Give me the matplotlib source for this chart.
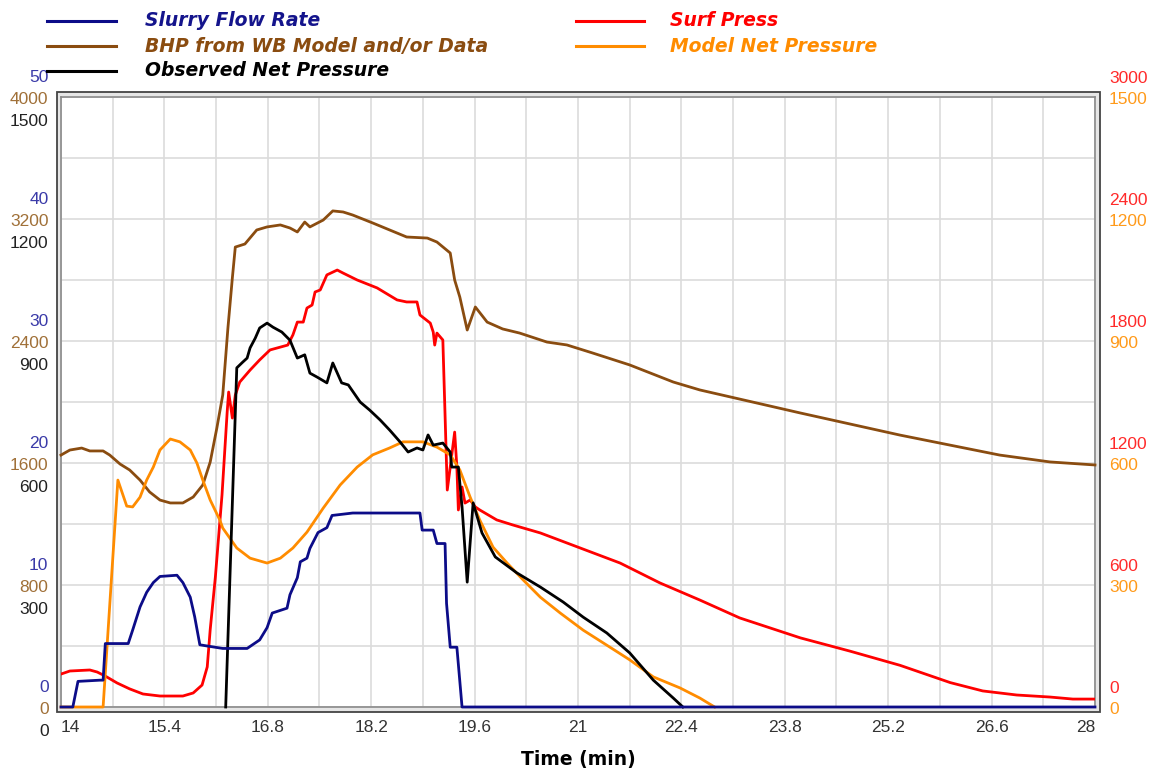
import matplotlib
matplotlib.use('Agg')
import matplotlib.pyplot as plt
from matplotlib.transforms import ScaledTranslation
from matplotlib.lines import Line2D
from matplotlib.patches import Rectangle
import numpy as np

plt.rcParams['font.family'] = ['Liberation Sans', 'DejaVu Sans']

# ---------------- data ----------------
slurry_t = [14.00, 14.16, 14.23, 14.53, 14.57, 14.60, 14.91, 14.97, 15.07, 15.16, 15.25, 15.34,
            15.57, 15.65, 15.75, 15.81, 15.88, 15.98, 16.19, 16.52, 16.69, 16.79, 16.86, 17.06,
            17.10, 17.20, 17.24, 17.33, 17.37, 17.48, 17.60, 17.67, 17.95, 18.86, 18.89, 19.04,
            19.09, 19.20, 19.22, 19.27, 19.36, 19.43, 28.00]
slurry_v = [0, 0, 2.1, 2.2, 2.2, 5.2, 5.2, 6.3, 8.2, 9.4, 10.2, 10.7,
            10.8, 10.2, 9.0, 7.4, 5.1, 5.0, 4.8, 4.8, 5.5, 6.5, 7.7, 8.1,
            9.2, 10.6, 11.9, 12.2, 13.0, 14.3, 14.7, 15.7, 15.9, 15.9, 14.5, 14.5,
            13.4, 13.4, 8.5, 4.9, 4.9, 0, 0]

bhp_t = [14.00, 14.12, 14.28, 14.39, 14.57, 14.66, 14.80, 14.93, 15.07, 15.20, 15.34, 15.48,
         15.65, 15.79, 15.92, 16.02, 16.11, 16.19, 16.26, 16.32, 16.36, 16.49, 16.65, 16.79,
         16.97, 17.10, 17.20, 17.30, 17.37, 17.55, 17.68, 17.82, 17.95, 18.22, 18.45, 18.68,
         18.96, 19.09, 19.27, 19.33, 19.40, 19.50, 19.61, 19.77, 19.98, 20.21, 20.58, 20.85,
         21.20, 21.70, 22.29, 22.65, 24.01, 25.36, 26.71, 27.39, 28.00]
bhp_v = [1652, 1685, 1698, 1679, 1679, 1652, 1593, 1554, 1488, 1410, 1357, 1338,
         1338, 1377, 1456, 1606, 1829, 2046, 2485, 2813, 3016, 3036, 3128, 3148,
         3161, 3141, 3115, 3180, 3148, 3193, 3253, 3246, 3226, 3174, 3128, 3082,
         3075, 3049, 2977, 2800, 2688, 2472, 2623, 2524, 2479, 2452, 2393, 2374,
         2321, 2243, 2131, 2079, 1928, 1783, 1652, 1607, 1587]

obs_t = [16.23, 16.38, 16.46, 16.52, 16.56, 16.63, 16.69, 16.79, 16.87, 16.99, 17.10, 17.20,
         17.30, 17.37, 17.47, 17.60, 17.68, 17.80, 17.89, 18.05, 18.18, 18.32, 18.45, 18.59,
         18.70, 18.82, 18.90, 18.97, 19.04, 19.17, 19.27, 19.29, 19.38, 19.43, 19.50, 19.58,
         19.70, 19.88, 20.17, 20.49, 20.80, 21.07, 21.39, 21.70, 22.02, 22.29, 22.42]
obs_v = [0, 834, 848, 858, 883, 907, 932, 944, 934, 922, 902, 858,
         866, 821, 811, 797, 846, 797, 792, 750, 730, 706, 681, 652,
         627, 637, 632, 669, 644, 649, 627, 590, 590, 492, 307, 502,
         428, 369, 330, 295, 258, 221, 182, 133, 66, 22, 0]

surf_t = [14.00, 14.12, 14.39, 14.49, 14.60, 14.76, 14.93, 15.11, 15.34, 15.65, 15.79, 15.91,
          15.98, 16.02, 16.09, 16.18, 16.25, 16.27, 16.32, 16.36, 16.42, 16.56, 16.69, 16.83,
          17.07, 17.14, 17.20, 17.28, 17.33, 17.40, 17.44, 17.51, 17.60, 17.74, 17.82, 18.01,
          18.28, 18.55, 18.68, 18.82, 18.86, 19.00, 19.04, 19.06, 19.09, 19.17, 19.23, 19.27,
          19.33, 19.36, 19.38, 19.43, 19.47, 19.54, 19.61, 19.67, 19.90, 20.12, 20.49, 21.03,
          21.57, 22.11, 22.65, 23.19, 24.01, 24.68, 25.36, 26.04, 26.48, 26.94, 27.39, 27.70, 28.00]
surf_v = [162, 177, 182, 172, 152, 118, 89, 64, 54, 54, 69, 108,
          197, 380, 639, 1043, 1451, 1549, 1421, 1534, 1598, 1657, 1707, 1756,
          1780, 1830, 1893, 1893, 1962, 1977, 2041, 2051, 2125, 2149, 2134, 2100,
          2061, 2002, 1992, 1992, 1928, 1888, 1844, 1780, 1839, 1805, 1067, 1180,
          1352, 1180, 969, 1082, 1003, 1018, 984, 969, 920, 895, 856, 782,
          708, 610, 526, 438, 340, 275, 205, 120, 79, 59, 49, 39, 39]

model_t = [14.00, 14.57, 14.77, 14.89, 14.97, 15.07, 15.16, 15.25, 15.34, 15.48, 15.61, 15.75,
           15.84, 15.92, 16.02, 16.15, 16.19, 16.38, 16.56, 16.79, 16.97, 17.14, 17.33, 17.55,
           17.78, 18.01, 18.22, 18.45, 18.63, 18.90, 19.09, 19.27, 19.40, 19.54, 19.67, 19.85,
           20.04, 20.26, 20.49, 20.76, 21.07, 21.39, 21.70, 22.02, 22.38, 22.65, 22.85]
model_v = [0, 0, 558, 494, 492, 516, 558, 590, 632, 659, 652, 632,
           600, 558, 509, 460, 440, 391, 366, 354, 366, 391, 430, 489,
           546, 590, 620, 637, 652, 652, 639, 620, 583, 516, 460, 393,
           354, 312, 270, 231, 189, 152, 116, 74, 47, 22, 0]

x_ticks = [14, 15.4, 16.8, 18.2, 19.6, 21, 22.4, 23.8, 25.2, 26.6, 28]
x_tick_labels = ['14', '15.4', '16.8', '18.2', '19.6', '21', '22.4', '23.8', '25.2', '26.6', '28']

slurry_ticks = [0, 10, 20, 30, 40, 50]
bhp_ticks = [0, 800, 1600, 2400, 3200, 4000]
obs_ticks = [0, 300, 600, 900, 1200, 1500]
surf_ticks = [0, 600, 1200, 1800, 2400, 3000]
model_ticks = [0, 300, 600, 900, 1200, 1500]

labels = ['Slurry Flow Rate', 'BHP from WB Model and/or Data', 'Observed Net Pressure',
          'Surf Press', 'Model Net Pressure']

# ---------------- styling ----------------
C_SLURRY, C_BHP, C_OBS, C_SURF, C_MODEL = '#0c0c88', '#8a4c10', '#000000', '#ff0000', '#ff8c00'
T_SLURRY, T_BHP, T_OBS, T_SURF, T_MODEL = '#3a3aa8', '#a07038', '#222222', '#ff2a2a', '#ff9a1a'

W, H = 1164, 771
fig = plt.figure(figsize=(W / 100, H / 100), dpi=100)
L, R, B, T = 61 / W, 1095 / W, 1 - 707 / H, 1 - 97 / H

# outer frame
fig.add_artist(Rectangle((57 / W, 1 - 712 / H), (1100 - 57) / W, (712 - 92) / H,
                         transform=fig.transFigure, facecolor='#e6e6e6',
                         edgecolor='#444444', lw=1.3, zorder=0))

ax0 = fig.add_axes([L, B, R - L, T - B])
ax0.set_xlim(14, 28)
ax0.set_ylim(0, 10)
ax0.set_yticks(np.arange(0, 11, 1))
ax0.set_yticklabels([])
ax0.tick_params(axis='y', length=0)
ax0.set_xticks(x_ticks)
ax0.set_xticks(np.arange(14.7, 28, 1.4), minor=True)
ax0.set_xticklabels(x_tick_labels, fontsize=12.5, color='#333333')
ax0.tick_params(axis='x', which='both', length=0, pad=9)
xl = ax0.get_xticklabels()
xl[0].set_ha('left')
xl[-1].set_ha('right')
ax0.grid(True, which='both', color='#dcdcdc', lw=1.2)
for s in ax0.spines.values():
    s.set_color('#8a8a8a')
    s.set_linewidth(1.2)
ax0.set_xlabel('Time (min)', fontsize=13.5, fontweight='bold', labelpad=11,
               family=['DejaVu Sans'])


def make_axis(side, ylim, ticks, tcolor, dy_px):
    a = ax0.twinx()
    a.set_ylim(*ylim)
    a.set_yticks(ticks)
    a.set_yticklabels([str(t) for t in ticks])
    if side == 'left':
        a.yaxis.tick_left()
        a.tick_params(axis='y', length=0, pad=9, labelsize=12.5, labelcolor=tcolor)
    else:
        a.yaxis.tick_right()
        a.tick_params(axis='y', length=0, pad=10, labelsize=12.5, labelcolor=tcolor)
    for s in a.spines.values():
        s.set_visible(False)
    off = ScaledTranslation(0, dy_px / 100, fig.dpi_scale_trans)
    for tk in a.yaxis.get_major_ticks():
        tk.label1.set_transform(tk.label1.get_transform() + off)
        tk.label2.set_transform(tk.label2.get_transform() + off)
    return a


ax_bhp = make_axis('left', (0, 4000), bhp_ticks, T_BHP, -1)
ax_surf = make_axis('right', (0, 3000), surf_ticks, T_SURF, 20)
ax_model = make_axis('right', (0, 1500), model_ticks, T_MODEL, -1)
ax_obs = make_axis('left', (0, 1500), obs_ticks, T_OBS, -23)
ax_slurry = make_axis('left', (0, 50), slurry_ticks, T_SLURRY, 21)

lw = 2.0
ax_bhp.plot(bhp_t, bhp_v, color=C_BHP, lw=lw, clip_on=False)
ax_surf.plot(surf_t, surf_v, color=C_SURF, lw=lw)
ax_model.plot(model_t, model_v, color=C_MODEL, lw=lw, clip_on=False)
ax_obs.plot(obs_t, obs_v, color=C_OBS, lw=lw, clip_on=False)
ax_slurry.plot(slurry_t, slurry_v, color=C_SLURRY, lw=lw, clip_on=False)
for a in (ax_bhp, ax_surf, ax_model, ax_obs, ax_slurry):
    a.set_xlim(14, 28)

# ---------------- legend (manual) ----------------
leg_colors = [C_SLURRY, C_BHP, C_OBS, C_SURF, C_MODEL]
leg_tcolors = ['#14148c', '#8a4c10', '#000000', '#ff0000', '#ff8c00']
leg_pos = [(47, 116, 145, 21), (47, 116, 145, 46), (47, 116, 145, 71),
           (576, 644, 670, 21), (576, 644, 670, 46)]
for (x0, x1, xt, y), lab, lc, tc in zip(leg_pos, labels, leg_colors, leg_tcolors):
    fig.add_artist(Line2D([x0 / W, x1 / W], [1 - y / H, 1 - y / H], color=lc, lw=2.2,
                          transform=fig.transFigure))
    fig.text(xt / W, 1 - y / H, lab, color=tc, fontsize=13.5, fontweight='bold',
             fontstyle='italic', ha='left', va='center', family=['DejaVu Sans'])

fig.savefig('out.png', dpi=100)
